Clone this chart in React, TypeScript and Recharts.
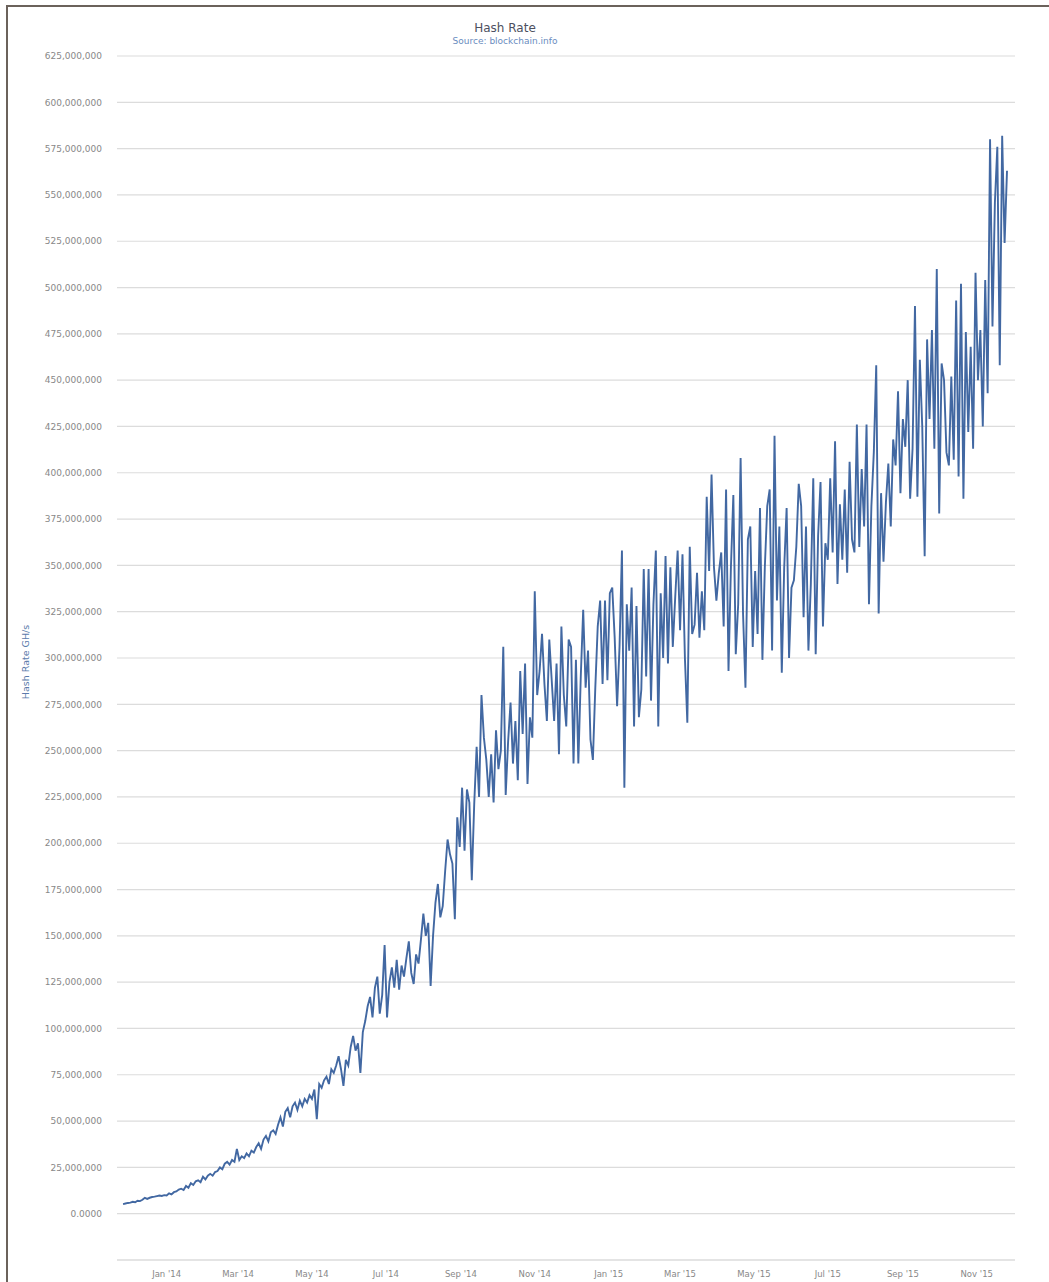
import { LineChart, Line, XAxis, YAxis, CartesianGrid } from 'recharts';

// hash rate in millions of GH/s, one reading every 2 days from 26 Nov 2013
const START = Date.UTC(2013, 10, 26);
const DAY = 86400000;
const STEP_DAYS = 2;

const winter1314 = [
  5.2, 5.5, 5.8, 6.0, 6.4, 6.2, 7.0, 6.8, 7.5, 8.6,
  8.0, 8.6, 9.0, 9.2, 9.5, 9.8, 9.6, 10.0, 9.8, 11.0,
  10.4, 11.6, 12.0, 13.0, 13.5, 12.8, 15.0, 14.0, 16.5, 15.5,
  17.5, 18.0, 17.0, 20.0, 18.5, 20.5, 21.5, 20.5, 22.5, 23.0,
  25.0, 24.0, 27.0, 28.0, 26.5, 29.0, 28.0, 35.0, 29.0, 31.0,
];
const spring14 = [
  30.0, 32.5, 31.0, 34.0, 33.0, 36.0, 38.0, 35.0, 40.0, 42.0,
  39.0, 44.0, 45.0, 43.0, 48.0, 52.0, 47.0, 55.0, 57.0, 52.0,
  58.0, 60.0, 56.0, 61.0, 58.0, 62.0, 60.0, 64.0, 62.0, 67.0,
  51.0, 70.0, 68.0, 72.0, 74.0, 70.0, 78.0, 76.0, 80.0, 85.0,
  78.0, 69.0, 83.0, 80.0, 90.0, 96.0, 88.0, 92.0, 76.0, 98.0,
];
const summer14 = [
  104, 112, 117, 106, 122, 128, 108, 118, 145, 106,
  125, 133, 122, 137, 121, 134, 128, 138, 147, 130,
  124, 140, 135, 148, 162, 150, 157, 123, 150, 168,
  178, 160, 166, 185, 202, 194, 189, 159, 214, 198,
  230, 196, 229, 222, 180, 221, 252, 225, 280, 257,
];
const autumn14 = [
  245, 225, 248, 222, 261, 240, 250, 306, 226, 255,
  276, 243, 266, 234, 293, 259, 297, 232, 268, 257,
  336, 280, 293, 313, 286, 266, 310, 288, 266, 297,
  248, 317, 280, 263, 310, 306, 243, 299, 243, 290,
  326, 284, 304, 256, 245, 284, 317, 331, 286, 331,
];
const winter1415 = [
  288, 335, 338, 311, 274, 306, 358, 230, 329, 304,
  338, 263, 328, 268, 283, 348, 290, 348, 277, 329,
  358, 263, 335, 300, 355, 297, 349, 306, 333, 358,
  315, 356, 300, 265, 360, 313, 318, 346, 311, 336,
  315, 387, 347, 399, 349, 331, 346, 357, 317, 391,
];
const summer15 = [
  293, 349, 388, 302, 329, 408, 324, 284, 364, 371,
  306, 347, 313, 381, 299, 349, 382, 391, 304, 420,
  331, 371, 292, 349, 381, 300, 338, 342, 360, 394,
  382, 322, 371, 304, 340, 397, 302, 366, 395, 317,
  362, 353, 397, 357, 417, 340, 383, 353, 391, 346,
];
const autumn15 = [
  406, 364, 357, 426, 360, 402, 371, 426, 329, 382,
  411, 458, 324, 389, 352, 384, 405, 371, 418, 404,
  444, 389, 429, 414, 450, 386, 413, 490, 387, 461,
  425, 355, 472, 429, 477, 413, 510, 378, 459, 450,
  411, 404, 452, 407, 493, 398, 502, 386, 476, 422,
  468, 413, 508, 450, 477, 425, 504, 443, 580, 479,
  546, 576, 458, 582, 524, 563,
];

const hashRateM = [
  ...winter1314, ...spring14, ...summer14, ...autumn14,
  ...winter1415, ...summer15, ...autumn15,
];

const xTickDates = [
  Date.UTC(2014, 0, 1), Date.UTC(2014, 2, 1), Date.UTC(2014, 4, 1),
  Date.UTC(2014, 6, 1), Date.UTC(2014, 8, 1), Date.UTC(2014, 10, 1),
  Date.UTC(2015, 0, 1), Date.UTC(2015, 2, 1), Date.UTC(2015, 4, 1),
  Date.UTC(2015, 6, 1), Date.UTC(2015, 8, 1), Date.UTC(2015, 10, 1),
];
const xTickLabels = [
  "Jan '14", "Mar '14", "May '14", "Jul '14", "Sep '14", "Nov '14",
  "Jan '15", "Mar '15", "May '15", "Jul '15", "Sep '15", "Nov '15",
];

const yTicks = Array.from({ length: 26 }, (_, i) => i * 25000000);

const data = hashRateM.map((v, i) => ({
  t: START + i * STEP_DAYS * DAY,
  rate: v * 1e6,
}));

const fmtY = (v: number) => (v === 0 ? '0.0000' : v.toLocaleString('en-US'));
const fmtX = (v: number) => {
  const idx = xTickDates.indexOf(v);
  return idx >= 0 ? xTickLabels[idx] : '';
};

const FONT = '"DejaVu Sans", Verdana, sans-serif';

export default function App() {
  return (
    <div
      style={{
        position: 'absolute',
        left: 0,
        top: 0,
        width: 1049,
        height: 1282,
        background: '#fff',
        fontFamily: FONT,
        overflow: 'hidden',
      }}
    >
      <div
        style={{
          position: 'absolute',
          left: 6,
          top: 5,
          width: 1043,
          height: 1277,
          borderLeft: '2px solid #6b625b',
          borderTop: '2px solid #6b625b',
        }}
      />
      <div
        style={{
          position: 'absolute',
          left: 355,
          top: 21,
          width: 300,
          textAlign: 'center',
          fontSize: 12,
          color: '#4d5060',
          lineHeight: '14px',
        }}
      >
        Hash Rate
      </div>
      <div
        style={{
          position: 'absolute',
          left: 355,
          top: 36,
          width: 300,
          textAlign: 'center',
          fontSize: 9,
          color: '#6a8cc0',
          lineHeight: '11px',
        }}
      >
        Source: blockchain.info
      </div>
      <div
        style={{
          position: 'absolute',
          left: 25,
          top: 662,
          transform: 'translate(-50%, -50%) rotate(-90deg)',
          whiteSpace: 'nowrap',
          fontSize: 9.5,
          color: '#5b7bab',
        }}
      >
        Hash Rate GH/s
      </div>
      <div style={{ position: 'absolute', left: 0, top: 0 }}>
        <LineChart
          width={1049}
          height={1282}
          data={data}
          margin={{ top: 56, right: 34, bottom: 2, left: 17 }}
        >
          <CartesianGrid vertical={false} stroke="#dcdcdc" strokeWidth={1.2} />
          <XAxis
            dataKey="t"
            type="number"
            scale="linear"
            domain={[START - 5 * DAY, START + 736.6 * DAY]}
            ticks={xTickDates}
            tickFormatter={fmtX}
            interval={0}
            axisLine={{ stroke: '#dcdcdc', strokeWidth: 1.2 }}
            tickLine={false}
            tickMargin={5}
            height={20}
            tick={{ fontSize: 8.5, fill: '#888', fontFamily: FONT }}
          />
          <YAxis
            type="number"
            domain={[-25000000, 625000000]}
            ticks={yTicks}
            tickFormatter={fmtY}
            interval={0}
            axisLine={false}
            tickLine={false}
            tickMargin={9}
            width={100}
            tick={{ fontSize: 9, fill: '#888', fontFamily: FONT }}
          />
          <Line
            type="linear"
            dataKey="rate"
            stroke="#4268a2"
            strokeWidth={1.9}
            dot={false}
            isAnimationActive={false}
          />
        </LineChart>
      </div>
    </div>
  );
}
